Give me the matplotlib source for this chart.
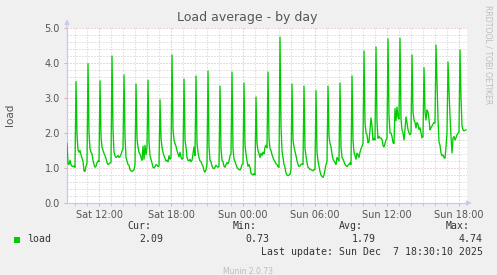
import matplotlib
matplotlib.use('Agg')
import matplotlib.pyplot as plt
import numpy as np

W, H = 497, 275

# ---- data (5-minute samples, Sat 09:20 .. Sun 18:35) ----
load = [
    1.70, 1.12, 1.10, 1.22, 1.10, 1.05, 1.04, 1.06, 1.02, 3.47, 1.95, 1.52,
    1.45, 1.50, 1.38, 1.28, 1.20, 0.92, 0.90, 1.05, 1.14, 3.98, 2.00, 1.55,
    1.45, 1.40, 1.22, 1.10, 1.02, 1.05, 1.15, 1.20, 1.18, 3.49, 1.90, 1.60,
    1.50, 1.42, 1.35, 1.28, 1.15, 1.10, 1.12, 1.14, 1.16, 4.20, 2.10, 1.45,
    1.35, 1.30, 1.32, 1.36, 1.30, 1.33, 1.38, 1.48, 1.55, 3.66, 1.90, 1.30,
    1.20, 1.10, 1.08, 0.95, 0.92, 0.90, 0.92, 0.95, 1.10, 3.40, 1.85, 1.60,
    1.45, 1.40, 1.30, 1.22, 1.62, 1.25, 1.65, 1.38, 1.60, 3.51, 1.75, 1.35,
    1.25, 1.14, 1.02, 1.00, 1.04, 1.10, 1.08, 1.04, 1.06, 2.95, 1.85, 1.60,
    1.45, 1.35, 1.28, 1.20, 1.22, 1.18, 1.35, 1.25, 1.30, 4.23, 2.10, 1.80,
    1.70, 1.62, 1.50, 1.40, 1.32, 1.45, 1.30, 1.25, 1.28, 3.54, 1.80, 1.60,
    1.30, 1.22, 1.20, 1.25, 1.18, 1.22, 1.40, 1.60, 1.35, 3.63, 1.70, 1.45,
    1.30, 1.20, 1.18, 1.10, 1.05, 0.92, 0.88, 0.95, 1.12, 3.77, 1.60, 1.22,
    1.18, 1.05, 1.00, 0.98, 1.02, 1.08, 1.05, 1.02, 1.05, 3.34, 1.55, 1.22,
    1.18, 1.05, 1.02, 1.10, 1.15, 1.12, 1.20, 1.35, 1.40, 3.74, 1.55, 1.25,
    1.18, 1.10, 1.02, 0.98, 0.96, 0.94, 1.00, 1.10, 1.12, 3.43, 1.65, 1.40,
    1.20, 1.05, 1.10, 1.02, 0.85, 0.82, 0.80, 0.84, 0.80, 3.03, 1.70, 1.50,
    1.40, 1.30, 1.42, 1.36, 1.45, 1.40, 1.60, 1.65, 1.58, 3.74, 1.85, 1.55,
    1.50, 1.38, 1.30, 1.22, 1.18, 1.12, 1.10, 1.04, 1.02, 4.74, 2.20, 1.50,
    1.30, 1.10, 1.02, 0.85, 0.80, 0.78, 0.80, 0.82, 0.95, 3.40, 1.80, 1.60,
    1.48, 1.35, 1.20, 1.10, 1.04, 1.06, 1.10, 1.12, 1.10, 3.34, 1.55, 1.35,
    1.15, 1.02, 1.00, 0.96, 0.95, 0.94, 0.92, 0.95, 0.96, 3.21, 1.45, 1.20,
    1.05, 0.90, 0.80, 0.76, 0.73, 0.80, 0.95, 1.10, 1.18, 3.34, 1.90, 1.70,
    1.60, 1.40, 1.25, 1.20, 1.15, 1.10, 1.30, 1.25, 1.20, 3.43, 1.60, 1.30,
    1.25, 1.18, 1.10, 1.06, 1.04, 1.08, 1.10, 1.15, 1.10, 3.63, 1.80, 1.45,
    1.35, 1.25, 1.42, 1.38, 1.30, 1.45, 1.55, 1.62, 1.70, 4.34, 2.30, 2.00,
    1.95, 1.72, 1.75, 2.10, 2.43, 2.20, 1.80, 1.85, 1.80, 4.46, 2.30, 1.85,
    1.90, 1.86, 1.85, 1.82, 1.65, 1.60, 1.70, 1.80, 1.85, 4.69, 2.50, 2.00,
    2.00, 1.90, 1.72, 1.70, 2.70, 2.35, 2.74, 2.45, 2.40, 4.71, 2.40, 2.09,
    2.00, 1.80, 2.10, 2.46, 2.30, 2.09, 2.00, 1.95, 2.00, 4.23, 2.60, 2.37,
    2.30, 2.14, 2.30, 2.25, 2.10, 2.15, 2.00, 1.86, 1.90, 3.87, 2.60, 2.37,
    2.66, 2.60, 2.40, 2.09, 2.15, 2.20, 2.25, 2.30, 2.28, 4.51, 3.40, 2.40,
    1.75, 1.65, 1.43, 1.35, 1.37, 1.30, 1.28, 1.60, 2.00, 4.03, 3.20, 2.50,
    1.90, 1.43, 1.85, 1.90, 1.80, 1.86, 1.95, 2.00, 2.02, 4.37, 3.00, 2.20,
    2.09, 2.06, 2.08, 2.09,
]
start_hour = 9 + 20 / 60          # Sat 09:20, hours since Sat 00:00
step_hours = 5 / 60
window_samples = 400

x_tick_hours = [12, 18, 24, 30, 36, 42]
x_tick_labels = ['Sat 12:00', 'Sat 18:00', 'Sun 00:00', 'Sun 06:00', 'Sun 12:00', 'Sun 18:00']
y_ticks = [0.0, 1.0, 2.0, 3.0, 4.0, 5.0]
y_tick_labels = ['0.0', '1.0', '2.0', '3.0', '4.0', '5.0']

series_name = 'load'
stat_names = ['Cur:', 'Min:', 'Avg:', 'Max:']
stat_values = ['2.09', '0.73', '1.79', '4.74']
last_update = 'Last update: Sun Dec  7 18:30:10 2025'

# ---- style ----
BG = '#F0F0F0'
TXT = '#555555'
GREEN = '#00CC00'
AXIS = '#C8C8F0'
MINOR = '#C8C8C8'
MAJOR = '#E4A8A8'

fig = plt.figure(figsize=(W / 100, H / 100), dpi=100, facecolor=BG)

def fx(px):
    return px / W

def fy(py):
    return 1 - py / H

ax = fig.add_axes([fx(67), fy(203), 400 / W, 175 / H])
ax.set_facecolor('white')

t = start_hour + np.arange(len(load)) * step_hours
ax.plot(t, load, color=GREEN, lw=0.95, zorder=5)

ax.set_xlim(start_hour, start_hour + window_samples * step_hours)
ax.set_ylim(0, 5)

ax.set_xticks(x_tick_hours)
ax.set_xticklabels(x_tick_labels)
ax.set_xticks(np.arange(10, 43, 1), minor=True)
ax.set_yticks(y_ticks)
ax.set_yticklabels(y_tick_labels)
ax.set_yticks(np.arange(0, 5.01, 0.2), minor=True)

ax.set_axisbelow(True)
ax.grid(which='minor', color=MINOR, lw=0.72, linestyle=(0, (1, 2)))
ax.grid(which='major', color=MAJOR, lw=0.72, linestyle=(0, (1, 2)))

ax.tick_params(axis='x', which='major', length=2.5, width=0.72, color=MAJOR,
               labelsize=7, labelcolor=TXT, pad=2.5)
ax.tick_params(axis='x', which='minor', length=2, width=0.72, color=MINOR)
ax.tick_params(axis='y', which='major', length=2, width=0.72, color=MAJOR,
               labelsize=7, labelcolor=TXT, pad=3)
ax.tick_params(axis='y', which='minor', length=0)

for s in ['top', 'right']:
    ax.spines[s].set_visible(False)
for s in ['left', 'bottom']:
    ax.spines[s].set_color(AXIS)
    ax.spines[s].set_linewidth(0.9)

# axis arrows
ax.annotate('', xy=(0, 1.05), xycoords='axes fraction', xytext=(0, 1.0),
            arrowprops=dict(arrowstyle='-|>', color=AXIS, lw=0.9,
                            mutation_scale=7, shrinkA=0, shrinkB=0),
            annotation_clip=False)
ax.annotate('', xy=(1.012, 0), xycoords='axes fraction', xytext=(1.0, 0),
            arrowprops=dict(arrowstyle='-|>', color=AXIS, lw=0.9,
                            mutation_scale=7, shrinkA=0, shrinkB=0),
            annotation_clip=False)

# title and labels
fig.text(fx(247.5), fy(18), 'Load average - by day', ha='center', va='center',
         fontsize=9, color=TXT)
fig.text(fx(10), fy(115), 'load', ha='center', va='center', rotation=90,
         fontsize=7.5, color=TXT)
fig.text(fx(488), fy(5), 'RRDTOOL / TOBI OETIKER', ha='center', va='top',
         rotation=270, fontsize=5.6, color='#BDBDBD')

# legend
mono = 'DejaVu Sans Mono'
fig.patches.append(matplotlib.patches.Rectangle((fx(14), fy(243)), 6 / W, 6 / H,
                   transform=fig.transFigure, facecolor=GREEN, edgecolor='none'))
fig.text(fx(27), fy(239), series_name, ha='left', va='center', fontsize=7.1,
         family=mono, color='#333333')
name_right = [151, 257, 363, 470]
value_right = [163, 269, 376, 483]
for nm, vl, nr, vr in zip(stat_names, stat_values, name_right, value_right):
    fig.text(fx(nr), fy(226), nm, ha='right', va='center', fontsize=7.1,
             family=mono, color='#333333')
    fig.text(fx(vr), fy(239), vl, ha='right', va='center', fontsize=7.1,
             family=mono, color='#333333')
fig.text(fx(483), fy(252), last_update, ha='right', va='center', fontsize=7.1,
         family=mono, color='#333333')
fig.text(fx(248), fy(271), 'Munin 2.0.73', ha='center', va='center',
         fontsize=5.5, color='#BBBBBB')

fig.savefig('out.png', dpi=100, facecolor=BG)
